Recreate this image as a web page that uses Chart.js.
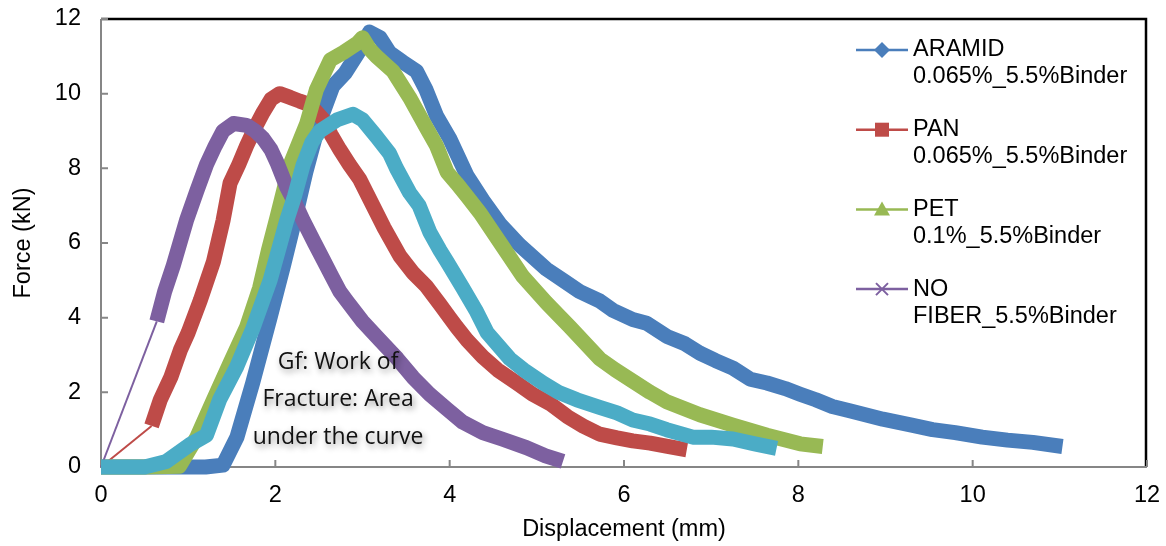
<!DOCTYPE html>
<html>
<head>
<meta charset="utf-8">
<script src="https://cdn.jsdelivr.net/npm/chart.js@4.4.1/dist/chart.umd.min.js"></script>
<style>
html, body { margin: 0; padding: 0; background: #fff; }
#wrap { width: 1166px; height: 546px; }
</style>
</head>
<body>
<div id="wrap"><canvas id="forceChart" width="1166" height="546"></canvas></div>
<script>
// legend labels (two lines each)
const seriesNames = [
    ['ARAMID', '0.065%_5.5%Binder'],
    ['PAN', '0.065%_5.5%Binder'],
    ['PET', '0.1%_5.5%Binder'],
    ['NO', 'FIBER_5.5%Binder']
];

// displacement (mm) / force (kN)
const aramidX = [0, 0.6, 1.2, 1.4, 1.56, 1.74, 1.94, 2.09, 2.2, 2.35, 2.5, 2.66, 2.8, 2.95, 3.08, 3.2, 3.31, 3.46, 3.62, 3.73, 3.85, 4.0, 4.2, 4.38, 4.58, 4.8, 5.11, 5.3, 5.49, 5.72, 5.87, 6.1, 6.26, 6.49, 6.7, 6.87, 7.05, 7.25, 7.45, 7.64, 7.85, 8.02, 8.2, 8.39, 8.6, 8.97, 9.3, 9.54, 9.8, 10.11, 10.4, 10.69, 11.03];
const aramidY = [0, 0, 0, 0.05, 0.8, 2.25, 4.0, 5.36, 6.4, 7.9, 9.2, 10.2, 10.55, 11.1, 11.65, 11.5, 11.1, 10.85, 10.6, 10.1, 9.4, 8.8, 7.8, 7.15, 6.5, 5.95, 5.3, 5.0, 4.7, 4.45, 4.2, 3.95, 3.85, 3.5, 3.3, 3.05, 2.85, 2.65, 2.35, 2.25, 2.1, 1.95, 1.8, 1.62, 1.5, 1.28, 1.12, 1.0, 0.92, 0.8, 0.72, 0.66, 0.55];

const panX = [0, 0.58, 0.68, 0.8, 0.91, 1.0, 1.14, 1.29, 1.4, 1.48, 1.58, 1.67, 1.77, 1.86, 1.95, 2.05, 2.17, 2.28, 2.4, 2.55, 2.64, 2.74, 2.85, 2.97, 3.12, 3.25, 3.43, 3.58, 3.73, 3.89, 4.0, 4.08, 4.2, 4.38, 4.55, 4.77, 4.95, 5.15, 5.35, 5.53, 5.72, 5.92, 6.1, 6.3, 6.5, 6.72];
const panY = [0, 1.1, 1.8, 2.4, 3.13, 3.6, 4.47, 5.5, 6.6, 7.6, 8.1, 8.6, 9.1, 9.5, 9.85, 10.0, 9.9, 9.8, 9.7, 9.3, 8.9, 8.5, 8.1, 7.7, 7.0, 6.4, 5.65, 5.2, 4.85, 4.35, 4.0, 3.75, 3.4, 2.95, 2.6, 2.25, 1.95, 1.7, 1.35, 1.1, 0.88, 0.78, 0.7, 0.64, 0.55, 0.46];

const petX = [0, 0.5, 0.9, 1.1, 1.29, 1.48, 1.67, 1.82, 1.92, 2.02, 2.17, 2.36, 2.47, 2.63, 2.78, 2.94, 3.0, 3.08, 3.16, 3.35, 3.54, 3.73, 3.85, 3.97, 4.08, 4.2, 4.35, 4.61, 4.84, 5.11, 5.38, 5.72, 5.9, 6.1, 6.3, 6.49, 6.87, 7.25, 7.64, 8.02, 8.28];
const petY = [0, 0, 0.02, 0.8, 1.8, 2.78, 3.75, 4.8, 5.8, 6.7, 8.1, 9.2, 10.1, 10.9, 11.1, 11.35, 11.5, 11.2, 11.0, 10.6, 9.9, 9.1, 8.6, 7.9, 7.6, 7.25, 6.8, 5.9, 5.1, 4.4, 3.75, 2.9, 2.6, 2.3, 2.0, 1.75, 1.4, 1.12, 0.85, 0.62, 0.55];

const noFiberX = [0, 0.64, 0.73, 0.83, 0.98, 1.1, 1.21, 1.31, 1.4, 1.52, 1.67, 1.77, 1.86, 1.95, 2.02, 2.13, 2.22, 2.32, 2.45, 2.55, 2.65, 2.74, 2.82, 3.0, 3.2, 3.4, 3.58, 3.77, 3.97, 4.15, 4.38, 4.6, 4.88, 5.1, 5.3];
const noFiberY = [0, 3.9, 4.7, 5.4, 6.6, 7.4, 8.1, 8.6, 9.0, 9.2, 9.15, 9.0, 8.8, 8.5, 8.15, 7.5, 7.1, 6.6, 6.0, 5.55, 5.1, 4.7, 4.45, 3.9, 3.4, 2.9, 2.4, 1.95, 1.55, 1.2, 0.92, 0.75, 0.52, 0.3, 0.15];

// fifth run, plotted but not in the legend
const extraX = [0, 0.5, 0.75, 1.02, 1.21, 1.36, 1.56, 1.74, 1.94, 2.13, 2.22, 2.32, 2.42, 2.51, 2.71, 2.89, 3.0, 3.16, 3.31, 3.39, 3.54, 3.65, 3.77, 3.89, 3.97, 4.15, 4.3, 4.43, 4.69, 4.85, 5.07, 5.25, 5.46, 5.72, 5.92, 6.1, 6.3, 6.49, 6.79, 7.0, 7.25, 7.5, 7.75];
const extraY = [0, 0, 0.15, 0.6, 0.85, 1.8, 2.7, 3.7, 5.0, 6.6, 7.25, 8.1, 8.7, 9.0, 9.3, 9.45, 9.3, 8.85, 8.4, 8.0, 7.35, 7.0, 6.3, 5.8, 5.5, 4.8, 4.2, 3.6, 2.9, 2.6, 2.25, 2.0, 1.8, 1.6, 1.45, 1.26, 1.15, 1.0, 0.8, 0.8, 0.75, 0.62, 0.5];

const tickValues = [0, 2, 4, 6, 8, 10, 12];

const noteLines = ['Gf: Work of', 'Fracture: Area', 'under the curve'];
const noteX = 2.72;
const noteY = [2.79, 1.8, 0.8];

const colors = ['#4A7EBB', '#BE4B48', '#98B954', '#7D60A0', '#4BACC6'];
const markers = ['diamond', 'square', 'triangle', 'cross'];

const AXIS_FONT = '"Liberation Sans", Arial, sans-serif';

function toPoints(xs, ys) {
    return xs.map((x, i) => ({ x: x, y: ys[i] }));
}

// first segment drawn thin (no markers between origin and first reading)
const thinLead = { borderWidth: ctx => ctx.p0DataIndex === 0 ? 2 : undefined };

function makeSet(label, xs, ys, color, order, lead) {
    const ds = {
        label: label,
        data: toPoints(xs, ys),
        borderColor: color,
        backgroundColor: color,
        borderWidth: 15,
        borderJoinStyle: 'round',
        borderCapStyle: 'butt',
        pointRadius: 0,
        tension: 0,
        clip: false,
        order: order
    };
    if (lead) ds.segment = thinLead;
    return ds;
}

// fixed axis box sizes, no extra label padding around the plot
function fixBox(axis, size) {
    if (axis.isHorizontal()) axis.height = size; else axis.width = size;
    axis.paddingTop = 0;
    axis.paddingBottom = 0;
    axis.paddingLeft = 0;
    axis.paddingRight = 0;
}

function drawMarker(ctx, kind, x, y, color) {
    ctx.save();
    ctx.fillStyle = color;
    ctx.strokeStyle = color;
    ctx.beginPath();
    if (kind === 'diamond') {
        ctx.moveTo(x, y - 8); ctx.lineTo(x + 8, y); ctx.lineTo(x, y + 8); ctx.lineTo(x - 8, y);
        ctx.closePath(); ctx.fill();
    } else if (kind === 'square') {
        ctx.fillRect(x - 7, y - 7, 14, 14);
    } else if (kind === 'triangle') {
        ctx.moveTo(x, y - 8); ctx.lineTo(x + 8, y + 6); ctx.lineTo(x - 8, y + 6);
        ctx.closePath(); ctx.fill();
    } else {
        ctx.lineWidth = 2;
        ctx.moveTo(x - 6, y - 6); ctx.lineTo(x + 6, y + 6);
        ctx.moveTo(x + 6, y - 6); ctx.lineTo(x - 6, y + 6);
        ctx.stroke();
    }
    ctx.restore();
}

const framePlugin = {
    id: 'frame',
    beforeDatasetsDraw(chart) {
        const { ctx, chartArea: a, scales } = chart;
        ctx.save();
        // top and right frame
        ctx.strokeStyle = '#000';
        ctx.lineWidth = 2.5;
        ctx.beginPath();
        ctx.moveTo(a.left, a.top); ctx.lineTo(a.right - 1, a.top); ctx.lineTo(a.right - 1, a.bottom);
        ctx.stroke();
        // axes
        ctx.strokeStyle = '#868686';
        ctx.lineWidth = 2;
        ctx.beginPath();
        ctx.moveTo(a.left, a.top); ctx.lineTo(a.left, a.bottom); ctx.lineTo(a.right, a.bottom);
        ctx.stroke();
        // inward tick marks
        ctx.beginPath();
        tickValues.forEach(v => {
            const py = scales.y.getPixelForValue(v);
            ctx.moveTo(a.left, py); ctx.lineTo(a.left + 7, py);
            const px = scales.x.getPixelForValue(v);
            ctx.moveTo(px, a.bottom); ctx.lineTo(px, a.bottom - 7);
        });
        ctx.stroke();
        ctx.restore();
    },
    afterDatasetsDraw(chart) {
        const { ctx, scales } = chart;
        ctx.save();
        // note text with soft shadow
        ctx.font = '23px "Open Sans", sans-serif';
        ctx.textAlign = 'center';
        ctx.textBaseline = 'middle';
        ctx.fillStyle = '#111';
        ctx.shadowColor = 'rgba(0,0,0,0.45)';
        ctx.shadowBlur = 6;
        ctx.shadowOffsetX = 2;
        ctx.shadowOffsetY = 3;
        noteLines.forEach((line, i) => {
            ctx.fillText(line, scales.x.getPixelForValue(noteX), scales.y.getPixelForValue(noteY[i]));
        });
        ctx.restore();

        // legend inside plot area
        ctx.save();
        ctx.font = '23.5px ' + AXIS_FONT;
        ctx.textAlign = 'left';
        ctx.textBaseline = 'middle';
        seriesNames.forEach((lines, i) => {
            const y = 50 + i * 79.7;
            ctx.strokeStyle = colors[i];
            ctx.lineWidth = 2.5;
            ctx.beginPath();
            ctx.moveTo(856, y); ctx.lineTo(908, y);
            ctx.stroke();
            drawMarker(ctx, markers[i], 882, y, colors[i]);
            ctx.fillStyle = '#000';
            ctx.fillText(lines[0], 913, y);
            ctx.fillText(lines[1], 913, y + 27);
        });
        ctx.restore();
    }
};

const ctx = document.getElementById('forceChart').getContext('2d');
const chart = new Chart(ctx, {
    type: 'line',
    data: {
        datasets: [
            makeSet(seriesNames[0].join(' '), aramidX, aramidY, colors[0], 5, false),
            makeSet(seriesNames[1].join(' '), panX, panY, colors[1], 4, true),
            makeSet(seriesNames[2].join(' '), petX, petY, colors[2], 3, false),
            makeSet(seriesNames[3].join(' '), noFiberX, noFiberY, colors[3], 2, true),
            makeSet('', extraX, extraY, colors[4], 1, false)
        ]
    },
    options: {
        responsive: false,
        animation: false,
        devicePixelRatio: 1,
        layout: { padding: { top: 19, right: 19, left: 0, bottom: 0 } },
        plugins: {
            legend: { display: false },
            tooltip: { enabled: false }
        },
        scales: {
            x: {
                type: 'linear',
                min: 0,
                max: 12,
                afterBuildTicks: axis => { axis.ticks = tickValues.map(v => ({ value: v })); },
                afterFit: axis => fixBox(axis, 79),
                grid: { display: false, drawTicks: false },
                border: { display: false },
                ticks: { color: '#000', padding: 14, font: { family: AXIS_FONT, size: 23.5 } },
                title: {
                    display: true,
                    text: 'Displacement (mm)',
                    color: '#000',
                    padding: { top: 0, bottom: 2 },
                    font: { family: AXIS_FONT, size: 23.5 }
                }
            },
            y: {
                type: 'linear',
                min: 0,
                max: 12,
                afterBuildTicks: axis => { axis.ticks = tickValues.map(v => ({ value: v })); },
                afterFit: axis => fixBox(axis, 101),
                grid: { display: false, drawTicks: false },
                border: { display: false },
                ticks: { color: '#000', padding: 20, font: { family: AXIS_FONT, size: 23.5 } },
                title: {
                    display: true,
                    text: 'Force (kN)',
                    color: '#000',
                    padding: { top: 9, bottom: 0 },
                    font: { family: AXIS_FONT, size: 23.5 }
                }
            }
        }
    },
    plugins: [framePlugin]
});
</script>
</body>
</html>
